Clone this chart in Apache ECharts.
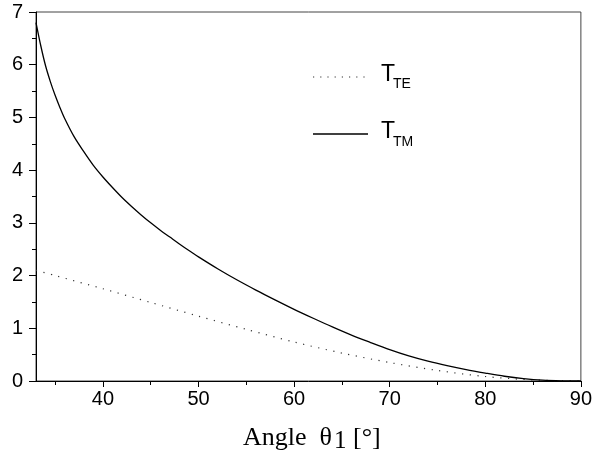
<!DOCTYPE html>
<html>
<head>
<meta charset="utf-8">
<script src="https://cdn.jsdelivr.net/npm/echarts@6/dist/echarts.min.js"></script>
<style>
html,body{margin:0;padding:0;background:#fff;}
#c{width:595px;height:457px;}
</style>
</head>
<body>
<div id="c"></div>
<script>
// Data
const anglesTM = [33, 33.5, 34, 34.5, 35, 35.5, 36, 37, 38, 39, 40, 41, 42, 43, 44, 45, 46, 47, 48, 49, 50, 52, 54, 56, 58, 60, 62, 64, 66, 68, 70, 72, 74, 76, 78, 80, 82, 84, 86, 88, 90];
const valuesTM = [6.80, 6.36, 5.98, 5.68, 5.42, 5.19, 4.98, 4.63, 4.35, 4.09, 3.87, 3.67, 3.48, 3.31, 3.15, 3.00, 2.86, 2.73, 2.60, 2.475, 2.355, 2.13, 1.92, 1.725, 1.54, 1.36, 1.19, 1.025, 0.87, 0.73, 0.595, 0.475, 0.375, 0.29, 0.215, 0.15, 0.09, 0.045, 0.015, 0.003, 0];
const anglesTE = [33, 35, 40, 45, 50, 55, 60, 65, 70, 75, 80, 85, 90];
const valuesTE = [2.10, 2.00, 1.75, 1.49, 1.23, 0.98, 0.74, 0.53, 0.35, 0.20, 0.085, 0.02, 0];
const xMajorTicks = [40, 50, 60, 70, 80, 90];
const xMinorTicks = [35, 45, 55, 65, 75, 85];
const xRange = [33, 90];
const yRange = [0, 7];

const chart = echarts.init(document.getElementById('c'), null, {renderer: 'canvas'});
const sans = 'Liberation Sans, Arial, sans-serif';
const serif = 'Liberation Serif, Times New Roman, serif';

const option = {
  animation: false,
  backgroundColor: '#fff',
  grid: {left: 36, right: 11, top: 12, bottom: 76, show: true, borderColor: '#444', borderWidth: 1},
  xAxis: [
    {
      type: 'value', min: xRange[0], max: xRange[1], position: 'bottom',
      axisLine: {show: true, lineStyle: {color: '#000', width: 1}},
      axisTick: {show: true, length: 6, customValues: xMajorTicks, lineStyle: {color: '#000'}},
      axisLabel: {customValues: xMajorTicks, fontSize: 20, fontFamily: sans, color: '#000', margin: 8},
      splitLine: {show: false}
    },
    {
      type: 'value', min: xRange[0], max: xRange[1], position: 'bottom',
      axisLine: {show: false},
      axisTick: {show: true, length: 4, customValues: xMinorTicks, lineStyle: {color: '#000'}},
      axisLabel: {show: false},
      splitLine: {show: false}
    }
  ],
  yAxis: {
    type: 'value', min: yRange[0], max: yRange[1], interval: 1,
    axisLine: {show: true, lineStyle: {color: '#000', width: 1}},
    axisTick: {show: true, length: 7, lineStyle: {color: '#000'}},
    minorTick: {show: true, splitNumber: 2, length: 4, lineStyle: {color: '#000'}},
    axisLabel: {fontSize: 20, fontFamily: sans, color: '#000', margin: 13},
    splitLine: {show: false}
  },
  series: [
    {
      name: 'T_TE', type: 'line', xAxisIndex: 0, showSymbol: false, smooth: 0.3,
      data: anglesTE.map((a, i) => [a, valuesTE[i]]),
      lineStyle: {color: '#333', width: 1.2, type: [1.2, 6.5]}
    },
    {
      name: 'T_TM', type: 'line', xAxisIndex: 0, showSymbol: false, smooth: 0.3,
      data: anglesTM.map((a, i) => [a, valuesTM[i]]),
      lineStyle: {color: '#000', width: 1.3}
    }
  ],
  graphic: [
    {type: 'line', shape: {x1: 313, y1: 77, x2: 368, y2: 77}, style: {stroke: '#333', lineWidth: 1.2, lineDash: [1.2, 6]}},
    {type: 'line', shape: {x1: 313, y1: 134, x2: 368, y2: 134}, style: {stroke: '#000', lineWidth: 1.3}},
    {type: 'text', left: 381, top: 63.5, style: {text: 'T', font: '23px ' + sans, fill: '#000'}},
    {type: 'text', left: 393, top: 77.5, style: {text: 'TE', font: '14px ' + sans, fill: '#000'}},
    {type: 'text', left: 381, top: 120.3, style: {text: 'T', font: '23px ' + sans, fill: '#000'}},
    {type: 'text', left: 393, top: 134.8, style: {text: 'TM', font: '14px ' + sans, fill: '#000'}},
    {type: 'text', left: 243, top: 425, style: {text: 'Angle  θ', font: '26px ' + serif, fill: '#000'}},
    {type: 'text', left: 334, top: 429, style: {text: '1', font: '25px ' + serif, fill: '#000'}},
    {type: 'text', left: 353, top: 425, style: {text: '[°]', font: '26px ' + serif, fill: '#000'}}
  ]
};
chart.setOption(option);
</script>
</body>
</html>
